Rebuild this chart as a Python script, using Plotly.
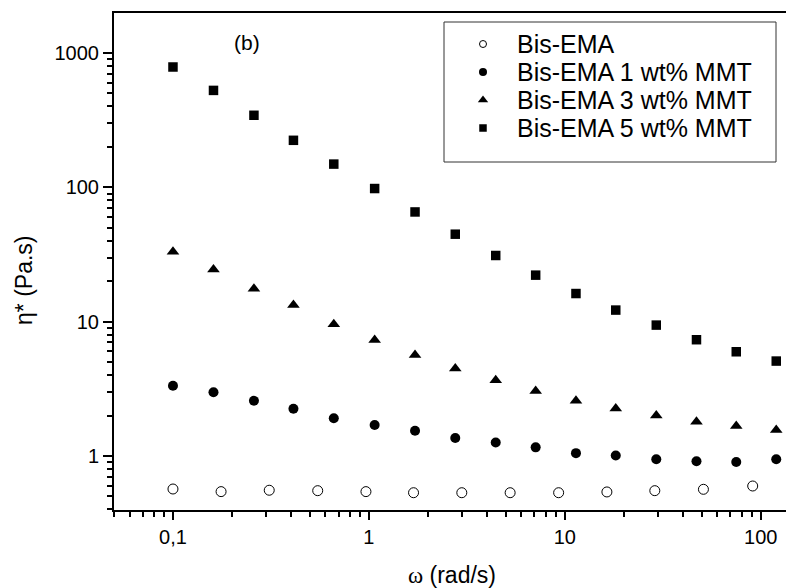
import plotly.graph_objects as go

# ---- data ----
omega_neat = [0.1, 0.176, 0.31, 0.548, 0.966, 1.69, 2.98, 5.26, 9.3, 16.4, 28.8, 51, 91]
eta_neat = [0.568, 0.543, 0.556, 0.552, 0.543, 0.533, 0.533, 0.533, 0.533, 0.54, 0.552, 0.565, 0.598]

omega_mmt = [0.1, 0.161, 0.259, 0.412, 0.662, 1.07, 1.72, 2.76, 4.44, 7.1, 11.4, 18.2, 29.3, 47, 75, 120]
eta_1 = [3.33, 2.98, 2.58, 2.25, 1.91, 1.70, 1.54, 1.36, 1.26, 1.16, 1.05, 1.01, 0.945, 0.913, 0.902, 0.945]
eta_3 = [33.1, 24.5, 17.6, 13.3, 9.55, 7.3, 5.64, 4.49, 3.67, 3.05, 2.58, 2.26, 2.0, 1.80, 1.67, 1.56]
eta_5 = [787, 527, 344, 224, 149, 98, 65.6, 44.8, 31.1, 22.2, 16.2, 12.2, 9.43, 7.34, 5.97, 5.09]

series_names = ["Bis-EMA", "Bis-EMA 1 wt% MMT", "Bis-EMA 3 wt% MMT", "Bis-EMA 5 wt% MMT"]
series_symbols = ["circle-open", "circle", "triangle-up", "square"]

x_tickvals = [0.1, 1, 10, 100]
x_ticktext = ["0,1", "1", "10", "100"]
y_tickvals = [1, 10, 100, 1000]
y_ticktext = ["1", "10", "100", "1000"]

FONT = "Liberation Sans, Arial, sans-serif"

W, H = 786, 588
L, R, T, B = 114, 0, 13, 78

fig = go.Figure()

data = [(omega_neat, eta_neat), (omega_mmt, eta_1), (omega_mmt, eta_3), (omega_mmt, eta_5)]
sizes = [10, 10, 11, 9.5]
for (xs, ys), name, sym, sz in zip(data, series_names, series_symbols, sizes):
    fig.add_trace(go.Scatter(
        x=xs, y=ys, mode="markers", name=name, showlegend=False, cliponaxis=False,
        marker=dict(symbol=sym, size=sz, color="black",
                    line=dict(color="black", width=1 if sym == "circle-open" else 0)),
    ))

# ---- manual legend (overlay axes in 0..1 units of the plot area) ----
pw = W - L - R
ph = H - T - B
def nx(px):
    return (px - L) / pw
def ny(py):
    return (H - B - py) / ph

leg_y_px = [44, 72, 100, 128]
leg_marker_x = 483
leg_sizes = [7, 8, 9, 7.5]
for name, sym, ypx, sz in zip(series_names, series_symbols, leg_y_px, leg_sizes):
    fig.add_trace(go.Scatter(
        x=[nx(leg_marker_x)], y=[ny(ypx)], xaxis="x2", yaxis="y2",
        mode="markers", showlegend=False, hoverinfo="skip",
        marker=dict(symbol=sym, size=sz, color="black",
                    line=dict(color="black", width=1 if sym == "circle-open" else 0)),
    ))
    fig.add_annotation(
        xref="paper", yref="paper", x=nx(515), y=ny(ypx),
        xanchor="left", yanchor="middle", showarrow=False,
        text=name, font=dict(family=FONT, size=25, color="black"),
    )

fig.add_shape(type="rect", xref="paper", yref="paper",
              x0=nx(444), x1=nx(776), y0=ny(22), y1=ny(162),
              line=dict(color="#333333", width=1), fillcolor="rgba(0,0,0,0)")

# panel label
fig.add_annotation(xref="paper", yref="paper", x=nx(247), y=ny(43),
                   xanchor="center", yanchor="middle", showarrow=False,
                   text="(b)", font=dict(family=FONT, size=21, color="black"))

# axis titles
fig.add_annotation(xref="paper", yref="paper", x=nx(452), y=ny(575),
                   xanchor="center", yanchor="middle", showarrow=False,
                   text="<span style='font-family:Liberation Serif, serif'>ω</span> (rad/s)",
                   font=dict(family=FONT, size=23, color="black"))
fig.add_annotation(xref="paper", yref="paper", x=nx(24), y=ny(281),
                   xanchor="center", yanchor="middle", showarrow=False, textangle=-90,
                   text="η* (Pa.s)", font=dict(family=FONT, size=23, color="black"))

x_minor = [v * m for v in [0.01, 0.1, 1, 10] for m in range(2, 10)]
y_minor = [v * m for v in [0.1, 1, 10, 100, 1000] for m in range(2, 10)]

fig.update_layout(
    width=W, height=H,
    margin=dict(l=L, r=R, t=T, b=B, pad=0),
    paper_bgcolor="white", plot_bgcolor="white",
    font=dict(family=FONT, size=20, color="black"),
    xaxis=dict(
        type="log", range=[-1.301, 2.129], showgrid=False, zeroline=False,
        showline=True, linecolor="black", linewidth=2, mirror=True,
        ticks="outside", ticklen=8, tickwidth=2, tickcolor="black",
        tickmode="array", tickvals=x_tickvals, ticktext=x_ticktext,
        tickfont=dict(family=FONT, size=20, color="black"),
        minor=dict(ticks="outside", ticklen=5, tickwidth=2, tickcolor="black",
                   tickmode="array", tickvals=x_minor, showgrid=False),
    ),
    yaxis=dict(
        type="log", range=[-0.402, 3.298], showgrid=False, zeroline=False,
        showline=True, linecolor="black", linewidth=2,
        ticks="outside", ticklen=9, tickwidth=2, tickcolor="black",
        tickmode="array", tickvals=y_tickvals, ticktext=y_ticktext,
        tickfont=dict(family=FONT, size=20, color="black"),
        minor=dict(ticks="outside", ticklen=5, tickwidth=2, tickcolor="black",
                   tickmode="array", tickvals=y_minor, showgrid=False),
    ),
    xaxis2=dict(overlaying="x", range=[0, 1], visible=False, fixedrange=True),
    yaxis2=dict(overlaying="y", range=[0, 1], visible=False, fixedrange=True),
)

fig.write_html(
    "out.html",
    config={"displayModeBar": False},
    post_script="document.body.style.margin='0';document.body.style.padding='0';document.body.style.overflow='hidden';",
)
